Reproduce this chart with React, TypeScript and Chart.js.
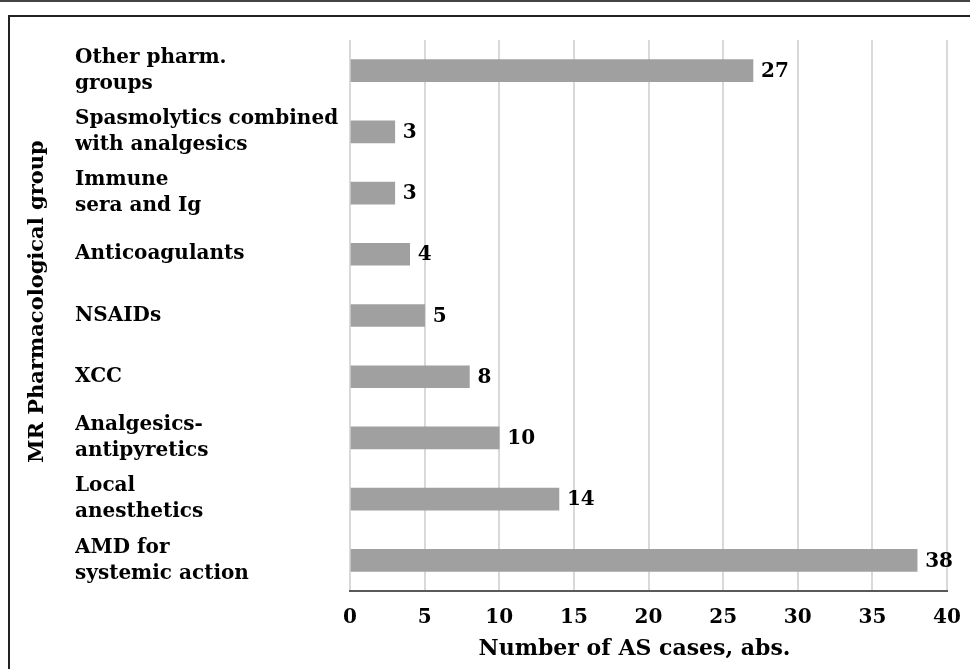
import React, { useEffect, useRef } from "react";
import { Chart, registerables } from "chart.js";

Chart.register(...registerables);

const categories: string[][] = [
  ["Other pharm.", "groups"],
  ["Spasmolytics combined", "with analgesics"],
  ["Immune", "sera and Ig"],
  ["Anticoagulants"],
  ["NSAIDs"],
  ["XCC"],
  ["Analgesics-", "antipyretics"],
  ["Local", "anesthetics"],
  ["AMD for", "systemic action"],
];
const values: number[] = [27, 3, 3, 4, 5, 8, 10, 14, 38];
const xTitle = "Number of AS cases, abs.";
const yTitle = "MR Pharmacological group";
const xMin = 0;
const xMax = 40;
const xStep = 5;

const FONT = "'DejaVu Serif', serif";

export default function App() {
  const ref = useRef<HTMLCanvasElement | null>(null);

  useEffect(() => {
    if (!ref.current) return;
    const labelPlugin = {
      id: "valueLabels",
      afterDatasetsDraw(chart: any) {
        const ctx = chart.ctx;
        const meta = chart.getDatasetMeta(0);
        ctx.save();
        ctx.font = `bold 20px ${FONT}`;
        ctx.fillStyle = "#000";
        ctx.textBaseline = "middle";
        ctx.textAlign = "left";
        meta.data.forEach((el: any, i: number) => {
          ctx.fillText(String(values[i]), el.x + 8, el.y + 1);
        });
        ctx.restore();
      },
      afterDraw(chart: any) {
        const ctx = chart.ctx;
        const area = chart.chartArea;
        ctx.save();
        ctx.fillStyle = "#000";
        ctx.textAlign = "center";
        ctx.textBaseline = "middle";
        ctx.font = `bold 22px ${FONT}`;
        ctx.fillText(xTitle, (area.left + area.right) / 2 - 14, 649);
        ctx.font = `bold 21px ${FONT}`;
        ctx.translate(38, (area.top + area.bottom) / 2 - 14);
        ctx.rotate(-Math.PI / 2);
        ctx.fillText(yTitle, 0, 0);
        ctx.restore();
      },
    };

    const chart = new Chart(ref.current, {
      type: "bar",
      data: {
        labels: categories,
        datasets: [
          {
            data: values,
            backgroundColor: "#a0a0a0",
            borderWidth: 0,
            barThickness: 22,
          },
        ],
      },
      options: {
        indexAxis: "y",
        animation: false,
        responsive: false,
        maintainAspectRatio: false,
        layout: { padding: { left: 75, top: 40, right: 23, bottom: 0 } },
        plugins: {
          legend: { display: false },
          tooltip: { enabled: false },
          title: { display: false },
        },
        scales: {
          x: {
            min: xMin,
            max: xMax,
            ticks: {
              stepSize: xStep,
              color: "#000",
              padding: 15,
              font: { family: FONT, size: 20, weight: "bold", lineHeight: 1.2 },
            },
            grid: { color: "#d9d9d9", lineWidth: 2, drawTicks: false },
            border: { display: true, color: "#595959", width: 2 },
            afterFit: (s: any) => {
              s.height = 78;
              s.paddingRight = 0;
              s.paddingLeft = 0;
            },
          },
          y: {
            ticks: {
              color: "#000",
              crossAlign: "far",
              font: { family: FONT, size: 20, weight: "bold", lineHeight: 1.3 },
            },
            grid: { display: false, drawTicks: false },
            border: { display: false },
            afterFit: (s: any) => {
              s.width = 275;
            },
          },
        },
      },
      plugins: [labelPlugin],
    } as any);
    return () => chart.destroy();
  }, []);

  return (
    <div style={{ position: "absolute", left: 0, top: 0, width: 970, height: 669, overflow: "hidden", background: "#fff" }}>
      <div style={{ position: "absolute", left: 0, top: 0, width: 970, height: 2, background: "#444" }} />
      <div
        style={{
          position: "absolute",
          left: 8,
          top: 15,
          width: 1000,
          height: 700,
          borderLeft: "2px solid #222",
          borderTop: "2px solid #222",
        }}
      />
      <canvas ref={ref} width={970} height={669} style={{ position: "absolute", left: 0, top: 0, display: "block" }} />
    </div>
  );
}
